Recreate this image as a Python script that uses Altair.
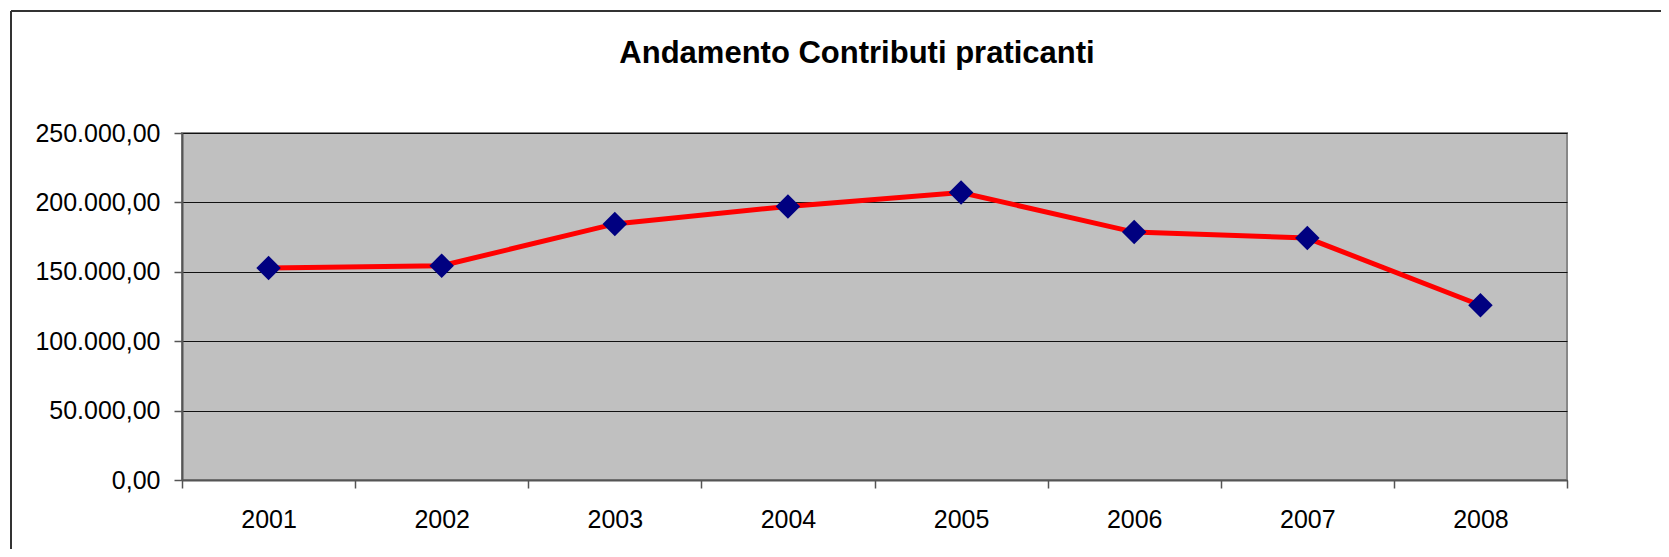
import altair as alt
import pandas as pd

years = ["2001", "2002", "2003", "2004", "2005", "2006", "2007", "2008"]
contributi = [152800, 154400, 184500, 197100, 207100, 178600, 174300, 125900]
y_ticks = [0, 50000, 100000, 150000, 200000, 250000]
title_text = "Andamento Contributi praticanti"

df = pd.DataFrame({"anno": years, "valore": contributi})

W, H = 1385, 347
PAD_L, PAD_T = 174, 125
TOTAL_W, TOTAL_H = 1653, 541

x_enc = alt.X(
    "anno:O",
    title=None,
    sort=years,
    scale=alt.Scale(paddingInner=0, paddingOuter=0),
    axis=alt.Axis(
        labelAngle=0,
        tickBand="extent",
        grid=False,
        tickSize=8,
        tickColor="#555555",
        tickWidth=1.5,
        domainColor="#555555",
        domainWidth=2,
        labelPadding=19,
        labelFontSize=25,
        labelFont="Liberation Sans",
        labelColor="#000000",
    ),
)
y_enc = alt.Y(
    "valore:Q",
    title=None,
    scale=alt.Scale(domain=[0, 250000], nice=False),
    axis=alt.Axis(
        values=y_ticks,
        format=",.2f",
        grid=True,
        gridColor="#111111",
        gridWidth=1,
        tickSize=8,
        tickColor="#555555",
        tickWidth=1.5,
        domainColor="#555555",
        domainWidth=2,
        labelPadding=14,
        labelFontSize=25,
        labelFont="Liberation Sans",
        labelColor="#000000",
    ),
)

base = alt.Chart(df).encode(x=x_enc, y=y_enc)
line = base.mark_line(color="#FF0000", strokeWidth=5)
points = base.mark_point(shape="diamond", size=600, filled=True, color="#000080", opacity=1)

frame_src = alt.Data(values=[{"t": title_text}])
frame_left = alt.Chart(frame_src).mark_rule(color="#333333", strokeWidth=2).encode(
    x=alt.value(11 - 8 - PAD_L), y=alt.value(11 - 8 - PAD_T), y2=alt.value(TOTAL_H - PAD_T + 10)
)
frame_top = alt.Chart(frame_src).mark_rule(color="#333333", strokeWidth=2).encode(
    x=alt.value(11 - 8 - PAD_L), x2=alt.value(TOTAL_W - PAD_L + 20), y=alt.value(11 - 8 - PAD_T)
)
title_mark = alt.Chart(frame_src).mark_text(
    font="Liberation Sans", fontSize=31, fontWeight="bold", color="#000000",
    align="center", baseline="alphabetic",
).encode(
    text="t:N",
    x=alt.value(857 - 8 - PAD_L),
    y=alt.value(63 - 8 - PAD_T),
)

chart = (
    alt.layer(line, points, frame_left, frame_top, title_mark)
    .properties(
        width=W,
        height=H,
        autosize=alt.AutoSizeParams(type="none"),
        padding={"left": PAD_L, "top": PAD_T, "right": TOTAL_W - PAD_L - W, "bottom": TOTAL_H - PAD_T - H},
    )
    .configure(locale={"number": {"decimal": ",", "thousands": ".", "grouping": [3], "currency": ["", " €"]}})
    .configure_view(fill="#C0C0C0", stroke="#888888", strokeWidth=2)
)

chart.save("out.html", embed_options={"renderer": "svg", "actions": False})
